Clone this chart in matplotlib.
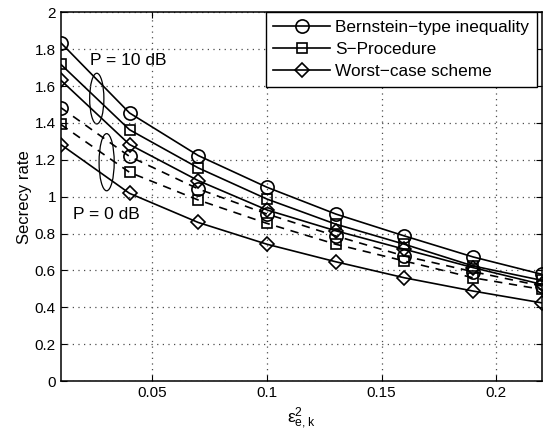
import matplotlib
matplotlib.use('Agg')
import matplotlib.pyplot as plt
from matplotlib.patches import Ellipse

plt.rcParams['font.family'] = ['Liberation Sans', 'DejaVu Sans']

error_bound = [0.01, 0.04, 0.07, 0.10, 0.13, 0.16, 0.19, 0.22]

# P = 10 dB
bernstein_10 = [1.835, 1.454, 1.223, 1.051, 0.906, 0.787, 0.673, 0.579]
sproc_10 = [1.718, 1.363, 1.156, 0.987, 0.851, 0.742, 0.624, 0.546]
worst_10 = [1.632, 1.283, 1.087, 0.928, 0.815, 0.715, 0.615, 0.524]

# P = 0 dB
bernstein_0 = [1.483, 1.218, 1.042, 0.906, 0.787, 0.678, 0.593, 0.515]
sproc_0 = [1.392, 1.132, 0.982, 0.855, 0.742, 0.651, 0.560, 0.497]
worst_0 = [1.283, 1.018, 0.860, 0.742, 0.647, 0.560, 0.488, 0.424]

legend_labels = ['Bernstein\u2212type inequality', 'S\u2212Procedure', 'Worst\u2212case scheme']


def main():
    fig = plt.figure(figsize=(5.43, 4.4), dpi=100)
    ax = fig.add_axes([0.112, 0.134, 0.886, 0.838])

    mk = dict(color='black', lw=1.2, markerfacecolor='none', markeredgecolor='black',
              markeredgewidth=1.2)
    ax.plot(error_bound, bernstein_10, marker='o', ms=9.5, label=legend_labels[0], **mk)
    ax.plot(error_bound, sproc_10, marker='s', ms=7.5, label=legend_labels[1], **mk)
    ax.plot(error_bound, worst_10, marker='D', ms=6.8, label=legend_labels[2], **mk)

    ax.plot(error_bound, bernstein_0, marker='o', ms=9.5, ls=(0, (5, 4)), **mk)
    ax.plot(error_bound, sproc_0, marker='s', ms=7.5, ls=(0, (5, 4)), **mk)
    ax.plot(error_bound, worst_0, marker='D', ms=6.8, **mk)

    ax.add_patch(Ellipse((0.0257, 1.532), 0.0062, 0.275, fill=False, lw=0.9, ec='black'))
    ax.add_patch(Ellipse((0.0300, 1.187), 0.0066, 0.31, fill=False, lw=0.9, ec='black'))
    ax.text(0.0228, 1.741, 'P = 10 dB', fontsize=12.5, va='center', ha='left')
    ax.text(0.0155, 0.906, 'P = 0 dB', fontsize=12.5, va='center', ha='left')

    ax.set_xlim(0.01, 0.22)
    ax.set_ylim(0, 2)
    ax.set_xticks([0.05, 0.1, 0.15, 0.2])
    ax.set_xticklabels(['0.05', '0.1', '0.15', '0.2'])
    ax.set_yticks([0, 0.2, 0.4, 0.6, 0.8, 1, 1.2, 1.4, 1.6, 1.8, 2])
    ax.set_yticklabels(['0', '0.2', '0.4', '0.6', '0.8', '1', '1.2', '1.4', '1.6', '1.8', '2'])
    ax.tick_params(direction='in', top=True, right=True, labelsize=11, length=4, width=0.8)
    for sp in ax.spines.values():
        sp.set_linewidth(1.1)

    ax.grid(True, ls=(0, (1, 3.5)), color='0.3', lw=0.9)
    ax.set_ylabel('Secrecy rate', fontsize=12, labelpad=2)
    ax.set_xlabel('$\\mathregular{\u03b5^2_{e,k}}$', fontsize=12.5)

    leg = ax.legend(loc='upper right', bbox_to_anchor=(0.99, 1.0), fontsize=12.4,
                    fancybox=False, framealpha=1, edgecolor='black', handlelength=3.3,
                    labelspacing=0.4, borderaxespad=0.0, borderpad=0.45, handletextpad=0.3)
    leg.get_frame().set_linewidth(1.0)

    fig.savefig('out.png', dpi=100)


if __name__ == '__main__':
    main()
